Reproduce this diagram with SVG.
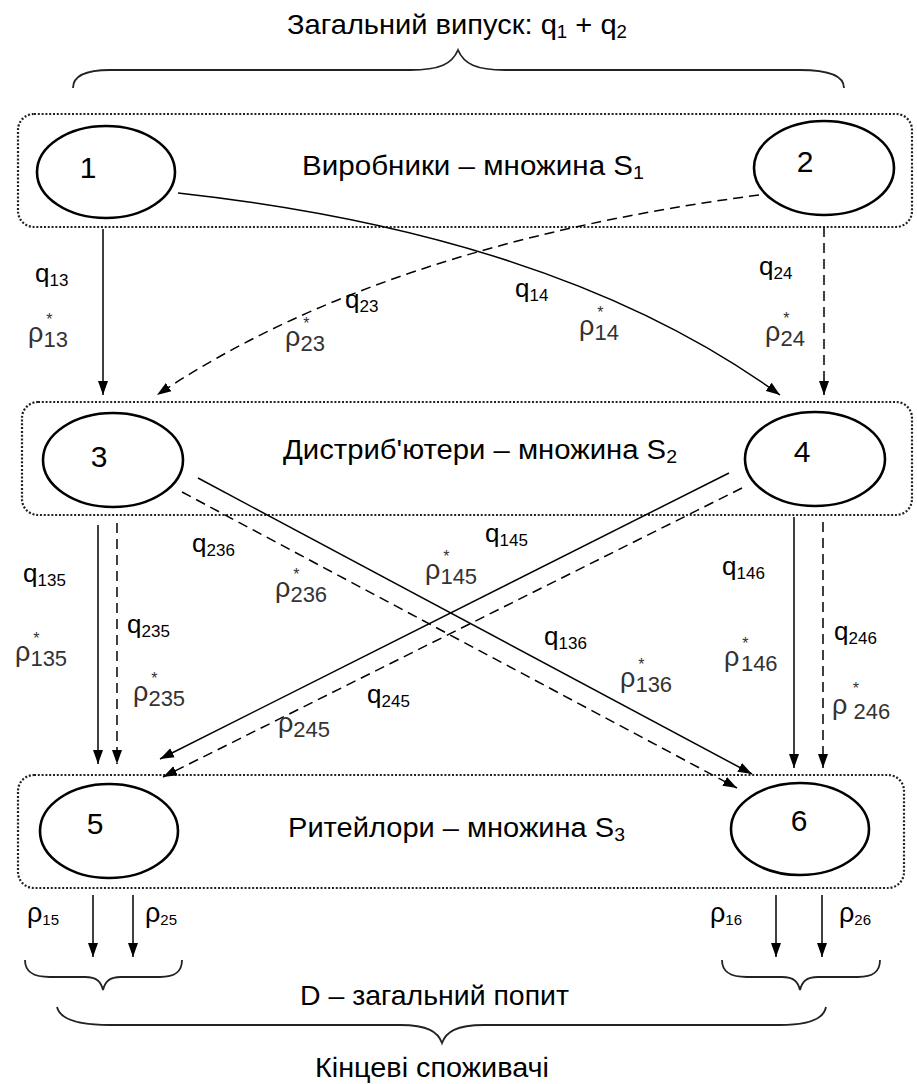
<svg xmlns="http://www.w3.org/2000/svg" width="917" height="1084" viewBox="0 0 917 1084">
<style>
text{font-family:"Liberation Sans",Arial,sans-serif;fill:#000}
.lay{fill:none;stroke:#222;stroke-width:2.2;stroke-dasharray:2 1.8}
.nd{fill:#fff;stroke:#000;stroke-width:2.6}
.num{font-size:30px;text-anchor:middle}
.big{font-size:27px}
.sol{fill:none;stroke:#000;stroke-width:1.5}
.dsh{fill:none;stroke:#000;stroke-width:1.5;stroke-dasharray:10 6}
.br{fill:none;stroke:#222;stroke-width:1.8}
.q{font-size:26px}
.qs{font-size:17px}
.p{font-size:25px;fill:#333}
.pr{font-size:27px;fill:#333}
.ps{font-size:22px;fill:#333}
.st{font-size:16px;fill:#333}
.bp{font-size:27px}
.bs{font-size:15px}
</style>
<defs>
<marker id="ah" markerUnits="userSpaceOnUse" markerWidth="15" markerHeight="11" refX="14" refY="5.5" orient="auto">
<path d="M0,0.5 L14,5.5 L0,10.5 z" fill="#000"/>
</marker>
</defs>

<g id="title">
<text x="287" y="34" font-size="28" textLength="340" lengthAdjust="spacingAndGlyphs">Загальний випуск: q<tspan font-size="18" dy="4">1</tspan><tspan dy="-4"> + q</tspan><tspan font-size="18" dy="4">2</tspan></text>
<path class="br" d="M73,88 C73,76 85,70 110,70 L410,70 C440,70 452,64 458,50 C464,64 476,70 505,70 L800,70 C830,70 844,76 844,88"/>
</g>

<g id="layer-producers">
<rect class="lay" x="18" y="114" width="894" height="113" rx="16"/>
<text class="big" x="302" y="175" textLength="342" lengthAdjust="spacingAndGlyphs">Виробники  – множина S<tspan font-size="18" dy="4">1</tspan></text>
</g>
<g id="layer-distributors">
<rect class="lay" x="22" y="402" width="890" height="113" rx="16"/>
<text class="big" x="283" y="459" textLength="394" lengthAdjust="spacingAndGlyphs">Дистриб'ютери  – множина S<tspan font-size="18" dy="4">2</tspan></text>
</g>
<g id="layer-retailers">
<rect class="lay" x="18" y="775" width="886" height="113" rx="16"/>
<text class="big" x="288" y="837" font-size="25" textLength="337" lengthAdjust="spacingAndGlyphs">Ритейлори  – множина S<tspan font-size="18" dy="4">3</tspan></text>
</g>

<g id="node1"><ellipse class="nd" cx="106" cy="172" rx="69" ry="46"/><text class="num" x="88" y="178">1</text></g>
<g id="node2"><ellipse class="nd" cx="824" cy="168" rx="70" ry="47"/><text class="num" x="805" y="172">2</text></g>
<g id="node3"><ellipse class="nd" cx="113" cy="460" rx="70" ry="47"/><text class="num" x="99" y="467">3</text></g>
<g id="node4"><ellipse class="nd" cx="815" cy="459" rx="70" ry="47"/><text class="num" x="802" y="462">4</text></g>
<g id="node5"><ellipse class="nd" cx="109" cy="831" rx="69" ry="47"/><text class="num" x="95" y="834">5</text></g>
<g id="node6"><ellipse class="nd" cx="800" cy="829" rx="69" ry="46"/><text class="num" x="799" y="831">6</text></g>

<g id="connectors">
<path class="sol" d="M103,229 L103,395" marker-end="url(#ah)"/>
<path class="dsh" d="M824,227 L824,395" marker-end="url(#ah)"/>
<path class="dsh" d="M759,195 Q380,245 157,395" marker-end="url(#ah)"/>
<path class="sol" d="M178,193 Q560,235 780,395" marker-end="url(#ah)"/>
<path class="sol" d="M98,525 L98,764" marker-end="url(#ah)"/>
<path class="dsh" d="M117,523 L117,764" marker-end="url(#ah)"/>
<path class="sol" d="M794,517 L794,768" marker-end="url(#ah)"/>
<path class="dsh" d="M823,522 L823,768" marker-end="url(#ah)"/>
<path class="sol" d="M198,478 L752,774" marker-end="url(#ah)"/>
<path class="dsh" d="M182,492 L737,788" marker-end="url(#ah)"/>
<path class="sol" d="M729,473 L160,759" marker-end="url(#ah)"/>
<path class="dsh" d="M742,488 L163,777" marker-end="url(#ah)"/>
<path class="sol" d="M93,895 L93,957" marker-end="url(#ah)"/>
<path class="sol" d="M133,895 L133,957" marker-end="url(#ah)"/>
<path class="sol" d="M776,895 L776,957" marker-end="url(#ah)"/>
<path class="sol" d="M822,895 L822,957" marker-end="url(#ah)"/>
</g>

<g id="labels">
<text class="q" x="35" y="282">q<tspan class="qs" dy="4">13</tspan></text>
<text class="p" x="28" y="347"><tspan class="pr" dy="-5">ρ</tspan><tspan class="st" dx="3" dy="-17">*</tspan><tspan class="ps" dx="-9.2" dy="22">13</tspan></text>

<text class="q" x="345" y="308">q<tspan class="qs" dy="4">23</tspan></text>
<text class="p" x="285" y="351"><tspan class="pr" dy="-5">ρ</tspan><tspan class="st" dx="3" dy="-17">*</tspan><tspan class="ps" dx="-9.2" dy="22">23</tspan></text>

<text class="q" x="515" y="297">q<tspan class="qs" dy="4">14</tspan></text>
<text class="p" x="579" y="340"><tspan class="pr" dy="-5">ρ</tspan><tspan class="st" dx="3" dy="-17">*</tspan><tspan class="ps" dx="-9.2" dy="22">14</tspan></text>

<text class="q" x="759" y="275">q<tspan class="qs" dy="4">24</tspan></text>
<text class="p" x="765" y="346"><tspan class="pr" dy="-5">ρ</tspan><tspan class="st" dx="3" dy="-17">*</tspan><tspan class="ps" dx="-9.2" dy="22">24</tspan></text>

<text class="q" x="23" y="582">q<tspan class="qs" dy="4">135</tspan></text>
<text class="p" x="15" y="666"><tspan class="pr" dy="-5">ρ</tspan><tspan class="st" dx="3" dy="-17">*</tspan><tspan class="ps" dx="-9.2" dy="22">135</tspan></text>

<text class="q" x="127" y="633">q<tspan class="qs" dy="4">235</tspan></text>
<text class="p" x="133" y="706"><tspan class="pr" dy="-5">ρ</tspan><tspan class="st" dx="3" dy="-17">*</tspan><tspan class="ps" dx="-9.2" dy="22">235</tspan></text>

<text class="q" x="192" y="552">q<tspan class="qs" dy="4">236</tspan></text>
<text class="p" x="275" y="602"><tspan class="pr" dy="-5">ρ</tspan><tspan class="st" dx="3" dy="-17">*</tspan><tspan class="ps" dx="-9.2" dy="22">236</tspan></text>

<text class="p" x="425" y="584"><tspan class="pr" dy="-5">ρ</tspan><tspan class="st" dx="3" dy="-17">*</tspan><tspan class="ps" dx="-9.2" dy="22">145</tspan></text>
<text class="q" x="485" y="542">q<tspan class="qs" dy="4">145</tspan></text>

<text class="q" x="367" y="703">q<tspan class="qs" dy="4">245</tspan></text>
<text class="p" x="278" y="737"><tspan class="pr" dy="-5">ρ</tspan><tspan class="ps" dy="5" font-size="18">245</tspan></text>

<text class="q" x="722" y="575">q<tspan class="qs" dy="4">146</tspan></text>
<text class="p" x="724" y="671"><tspan class="pr" dy="-5">ρ</tspan><tspan class="st" font-size="12" dx="3" dy="-17">*</tspan><tspan class="ps" font-size="19" dx="-7.7" dy="22">146</tspan></text>

<text class="q" x="544" y="645">q<tspan class="qs" dy="4">136</tspan></text>
<text class="p" x="620" y="692"><tspan class="pr" dy="-5">ρ</tspan><tspan class="st" dx="3" dy="-17">*</tspan><tspan class="ps" dx="-9.2" dy="22">136</tspan></text>

<text class="q" x="834" y="640">q<tspan class="qs" dy="4">246</tspan></text>
<text class="p" x="832" y="719"><tspan class="pr" dy="-5">ρ</tspan><tspan class="st" dx="5.3" dy="-20">*</tspan><tspan class="ps" dx="-11.5" dy="25"> 246</tspan></text>

<text x="27" y="926"><tspan class="bp" dy="-4">ρ</tspan><tspan class="bs" dy="3">15</tspan></text>
<text x="145" y="926"><tspan class="bp" dy="-4">ρ</tspan><tspan class="bs" dy="3">25</tspan></text>
<text x="710" y="926"><tspan class="bp" dy="-4">ρ</tspan><tspan class="bs" dy="3">16</tspan></text>
<text x="839" y="926"><tspan class="bp" dy="-4">ρ</tspan><tspan class="bs" dy="3">26</tspan></text>
</g>

<g id="demand">
<path class="br" d="M25,960 C25,972 33,977 50,977 L85,977 C97,977 101,982 103,990 C105,982 109,977 121,977 L160,977 C175,977 182,972 182,960"/>
<path class="br" d="M722,960 C722,972 730,977 747,977 L782,977 C794,977 798,982 800,990 C802,982 806,977 818,977 L858,977 C873,977 880,972 880,960"/>
<text x="300" y="1005" font-size="28" textLength="269" lengthAdjust="spacingAndGlyphs">D – загальний  попит</text>
<path class="br" d="M57,1007 C60,1020 80,1025 110,1025 L400,1025 C428,1025 438,1032 442,1043 C446,1032 456,1025 484,1025 L780,1025 C810,1025 824,1018 826,1007"/>
<text x="315" y="1077" font-size="28" textLength="234" lengthAdjust="spacingAndGlyphs">Кінцеві споживачі</text>
</g>
</svg>
